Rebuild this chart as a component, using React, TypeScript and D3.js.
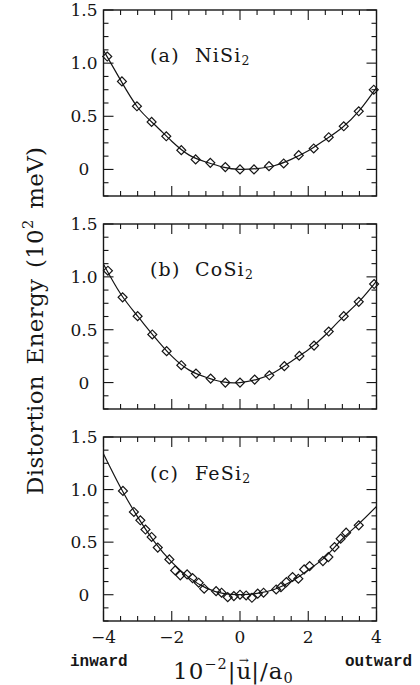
import React from "react";
import * as d3 from "d3";

// ---------- data ----------
const xTickValues = [-4, -2, 0, 2, 4];
const xTickLabels = ["\u22124", "\u22122", "0", "2", "4"];
const yTickValues = [0, 0.5, 1.0, 1.5];
const yTickLabels = ["0", "0.5", "1.0", "1.5"];

// (a) NiSi2 computed points
const niX = [-3.89, -3.46, -3.02, -2.59, -2.16, -1.72, -1.3, -0.87, -0.43, 0.0, 0.41, 0.85, 1.28, 1.72, 2.16, 2.6, 3.04, 3.48, 3.92];
const niE = [1.062, 0.828, 0.594, 0.447, 0.312, 0.181, 0.094, 0.062, 0.022, 0.0, 0.0, 0.031, 0.056, 0.134, 0.197, 0.303, 0.406, 0.547, 0.75];

// (b) CoSi2 computed points
const coX = [-3.87, -3.44, -3.0, -2.57, -2.15, -1.72, -1.29, -0.86, -0.43, 0.0, 0.43, 0.86, 1.3, 1.74, 2.17, 2.6, 3.04, 3.48, 3.93];
const coE = [1.058, 0.806, 0.628, 0.455, 0.297, 0.164, 0.085, 0.038, 0.0, 0.0, 0.028, 0.069, 0.155, 0.252, 0.35, 0.483, 0.628, 0.764, 0.932];

// (c) FeSi2 computed points
const feX = [-3.43, -3.11, -2.92, -2.77, -2.59, -2.41, -2.07, -1.9, -1.75, -1.55, -1.39, -1.21, -1.05, -0.7, -0.54, -0.36, -0.18, 0.0, 0.18, 0.35, 0.52, 0.69, 1.06, 1.2, 1.36, 1.54, 1.71, 1.88, 2.04, 2.43, 2.59, 2.77, 2.95, 3.11, 3.48];
const feE = [0.987, 0.787, 0.708, 0.62, 0.549, 0.448, 0.336, 0.231, 0.184, 0.193, 0.158, 0.114, 0.057, 0.034, 0.019, -0.023, -0.013, 0.0, -0.007, -0.029, 0.01, 0.019, 0.05, 0.072, 0.12, 0.168, 0.152, 0.241, 0.272, 0.32, 0.358, 0.453, 0.533, 0.59, 0.66];

// fitted curves
const fitX = [-4, -3.5, -3, -2.5, -2, -1.5, -1, -0.5, 0, 0.5, 1, 1.5, 2, 2.5, 3, 3.5, 4];
const niFit = [1.12, 0.84, 0.585, 0.42, 0.265, 0.137, 0.07, 0.022, 0.0, 0.008, 0.035, 0.095, 0.175, 0.28, 0.395, 0.555, 0.77];
const coFit = [1.12, 0.84, 0.628, 0.43, 0.25, 0.12, 0.05, 0.006, 0.0, 0.03, 0.095, 0.2, 0.31, 0.45, 0.615, 0.77, 0.96];
const feFit = [1.34, 1.02, 0.74, 0.5, 0.31, 0.165, 0.065, 0.012, 0.0, 0.012, 0.05, 0.125, 0.235, 0.36, 0.53, 0.68, 0.84];

const panelTags = ["(a)", "(b)", "(c)"];
const panelCompounds = ["NiSi", "CoSi", "FeSi"];

// ---------- layout ----------
const W = 420;
const H = 685;
const LEFT = 103.5;
const RIGHT = 376.5;
const panelBox = [
  { top: 10, bottom: 196, labelY: 62 },
  { top: 224, bottom: 409, labelY: 276 },
  { top: 437, bottom: 621, labelY: 480 },
];
const INK = "#161616";
const SERIF = "'DejaVu Serif', serif";

const x = d3.scaleLinear().domain([-4, 4]).range([LEFT, RIGHT]);
const xMinor = d3.range(-4, 4.001, 0.5);
const yMinor = d3.range(-0.25, 1.5001, 0.125);

const series = [
  { xs: niX, ys: niE, fit: niFit },
  { xs: coX, ys: coE, fit: coFit },
  { xs: feX, ys: feE, fit: feFit },
];

const diamond = d3.symbol(d3.symbolSquare, 40)() as string;

function Panel({ i }: { i: number }) {
  const box = panelBox[i];
  const s = series[i];
  const y = d3.scaleLinear().domain([-0.25, 1.5]).range([box.bottom, box.top]);
  const line = d3
    .line<number>()
    .x((_, k) => x(fitX[k]))
    .y((v) => y(v))
    .curve(d3.curveNatural);
  const minorLen = 5;
  const majorLen = 10;
  const isMajorX = (v: number) => xTickValues.some((t) => Math.abs(t - v) < 1e-6);
  const isMajorY = (v: number) => yTickValues.some((t) => Math.abs(t - v) < 1e-6);
  return (
    <g>
      <defs>
        <clipPath id={`clip${i}`}>
          <rect x={LEFT} y={box.top} width={RIGHT - LEFT} height={box.bottom - box.top} />
        </clipPath>
      </defs>
      {xMinor.map((v) => {
        const L = isMajorX(v) ? majorLen : minorLen;
        return (
          <g key={`xt${v}`} stroke={INK} strokeWidth={1.1}>
            <line x1={x(v)} x2={x(v)} y1={box.bottom} y2={box.bottom - L} />
            <line x1={x(v)} x2={x(v)} y1={box.top} y2={box.top + L} />
          </g>
        );
      })}
      {yMinor.map((v) => {
        const L = isMajorY(v) ? majorLen : minorLen;
        return (
          <g key={`yt${v}`} stroke={INK} strokeWidth={1.1}>
            <line x1={LEFT} x2={LEFT + L} y1={y(v)} y2={y(v)} />
            <line x1={RIGHT} x2={RIGHT - L} y1={y(v)} y2={y(v)} />
          </g>
        );
      })}
      <rect
        x={LEFT}
        y={box.top}
        width={RIGHT - LEFT}
        height={box.bottom - box.top}
        fill="none"
        stroke={INK}
        strokeWidth={1.4}
      />
      {yTickValues.map((v, k) => (
        <text
          key={`yl${v}`}
          x={84}
          y={y(v)}
          textAnchor="middle"
          dominantBaseline="central"
          fontFamily={SERIF}
          fontSize={17}
          fill={INK}
        >
          {yTickLabels[k]}
        </text>
      ))}
      <path d={line(s.fit) || ""} fill="none" stroke={INK} strokeWidth={1.2} clipPath={`url(#clip${i})`} />
      {s.xs.map((xv, k) => (
        <path
          key={`p${k}`}
          d={diamond}
          transform={`translate(${x(xv)},${y(s.ys[k])}) rotate(45)`}
          fill="none"
          stroke={INK}
          strokeWidth={1.2}
        />
      ))}
      <text x={150} y={box.labelY} fontFamily={SERIF} fontSize={19} letterSpacing={1.2} fill={INK}>
        {panelTags[i]}
      </text>
      <text x={195} y={box.labelY} fontFamily={SERIF} fontSize={19} letterSpacing={1.2} fill={INK}>
        {panelCompounds[i]}
        <tspan fontSize={12.5} dy={3}>2</tspan>
      </text>
    </g>
  );
}

export default function App() {
  const bottomBox = panelBox[2];
  return (
    <svg
      width={W}
      height={H}
      viewBox={`0 0 ${W} ${H}`}
      style={{ position: "absolute", left: 0, top: 0, background: "#fff" }}
    >
      <rect x={0} y={0} width={W} height={H} fill="#fff" />
      {[0, 1, 2].map((i) => (
        <Panel key={i} i={i} />
      ))}
      {xTickValues.map((v, k) => (
        <text
          key={`xl${v}`}
          x={x(v)}
          y={bottomBox.bottom + 22}
          textAnchor="middle"
          fontFamily={SERIF}
          fontSize={17}
          fill={INK}
        >
          {xTickLabels[k]}
        </text>
      ))}
      {/* y axis title */}
      <text
        transform={`translate(43,495) rotate(-90)`}
        textAnchor="start"
        fontFamily={SERIF}
        fontSize={23}
        letterSpacing={0.3}
        wordSpacing={3}
        fill={INK}
      >
        <tspan>Distortion Energy (10</tspan>
        <tspan fontSize={14.5} dy={-10}>2</tspan>
        <tspan dy={10}> meV)</tspan>
      </text>
      {/* x axis title, with a vector arrow over u */}
      <text x={173} y={679} fontFamily={SERIF} fontSize={23} letterSpacing={1} fill={INK}>
        10<tspan fontSize={14.5} dy={-10}>{"\u22122"}</tspan>
        <tspan dy={10}>|u</tspan>
        <tspan fontSize={12} dx={-13.5} dy={-15} letterSpacing={0}>{"\u2192"}</tspan>
        <tspan fontSize={23} dx={2.5} dy={15}>|/a</tspan>
        <tspan fontSize={14.5} dy={4}>0</tspan>
      </text>
      <text x={70} y={666} fontFamily="'Liberation Mono', monospace" fontSize={16} fontWeight="bold" fill={INK}>
        inward
      </text>
      <text x={345} y={666} fontFamily="'Liberation Mono', monospace" fontSize={16} fontWeight="bold" fill={INK}>
        outward
      </text>
    </svg>
  );
}
